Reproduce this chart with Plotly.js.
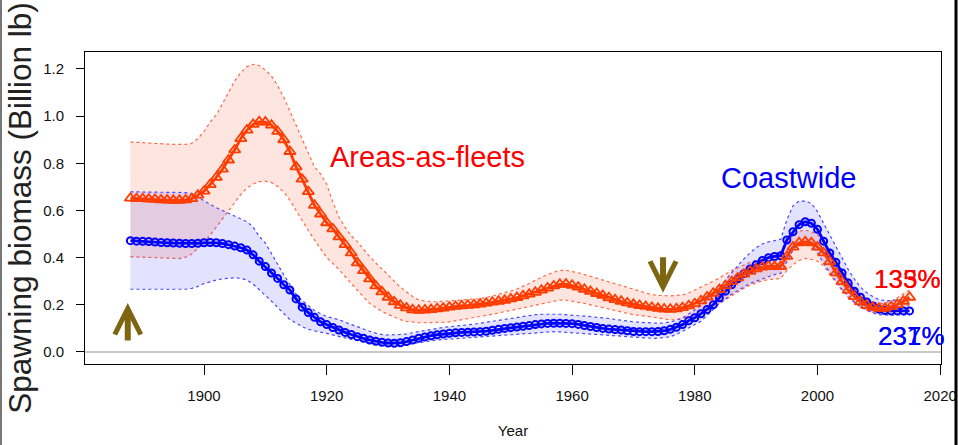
<!DOCTYPE html>
<html>
<head>
<meta charset="utf-8">
<script src="https://cdn.plot.ly/plotly-3.0.1.min.js"></script>
<style>
html,body{margin:0;padding:0;background:#fff;}
#chart{width:958px;height:445px;}
</style>
</head>
<body>
<div id="chart"></div>
<script>
// ---- Data (billion lb) ----
var years = [1888,1889,1890,1891,1892,1893,1894,1895,1896,1897,1898,1899,
1900,1901,1902,1903,1904,1905,1906,1907,1908,1909,
1910,1911,1912,1913,1914,1915,1916,1917,1918,1919,
1920,1921,1922,1923,1924,1925,1926,1927,1928,1929,
1930,1931,1932,1933,1934,1935,1936,1937,1938,1939,
1940,1941,1942,1943,1944,1945,1946,1947,1948,1949,
1950,1951,1952,1953,1954,1955,1956,1957,1958,1959,
1960,1961,1962,1963,1964,1965,1966,1967,1968,1969,
1970,1971,1972,1973,1974,1975,1976,1977,1978,1979,
1980,1981,1982,1983,1984,1985,1986,1987,1988,1989,
1990,1991,1992,1993,1994,1995,1996,1997,1998,1999,
2000,2001,2002,2003,2004,2005,2006,2007,2008,2009,
2010,2011,2012,2013,2014,2015];

// Areas-as-fleets
var aafMid = [.652,.650,.650,.648,.647,.645,.644,.643,.643,.645,.650,.665,
.682,.710,.740,.775,.814,.857,.905,.941,.965,.976,
.975,.962,.935,.900,.850,.785,.733,.680,.622,.585,
.548,.522,.488,.455,.420,.378,.345,.310,.280,.255,
.232,.213,.198,.187,.179,.177,.178,.180,.183,.186,
.190,.193,.196,.198,.200,.203,.207,.211,.215,.219,
.225,.231,.238,.245,.253,.262,.271,.280,.287,.288,
.283,.275,.266,.257,.248,.240,.230,.222,.215,.208,
.202,.197,.193,.189,.185,.182,.181,.183,.188,.196,
.205,.217,.233,.249,.265,.281,.298,.314,.330,.342,
.352,.360,.364,.362,.362,.405,.445,.463,.467,.463,
.445,.420,.383,.335,.298,.262,.235,.213,.198,.189,
.185,.185,.192,.201,.215,.232];
var aafUp = [.890,.890,.888,.886,.884,.882,.880,.880,.880,.880,.885,.905,
.935,.975,1.005,1.050,1.100,1.150,1.185,1.210,1.220,1.215,
1.195,1.170,1.130,1.080,1.020,.960,.898,.840,.785,.755,
.712,.635,.572,.528,.492,.468,.436,.404,.378,.352,
.327,.300,.275,.255,.235,.220,.215,.213,.213,.215,
.217,.218,.219,.220,.222,.226,.231,.237,.243,.250,
.258,.267,.277,.290,.305,.318,.328,.338,.346,.346,
.342,.336,.328,.320,.312,.305,.297,.288,.280,.272,
.265,.258,.250,.243,.240,.238,.238,.240,.242,.250,
.262,.275,.288,.300,.314,.330,.345,.357,.370,.380,
.388,.395,.402,.408,.412,.460,.496,.512,.517,.510,
.497,.470,.430,.390,.345,.305,.270,.245,.225,.212,
.206,.207,.215,.230,.247,.263];
var aafLo = [.404,.403,.402,.401,.400,.398,.395,.394,.396,.402,.415,.440,
.465,.495,.530,.565,.598,.630,.668,.695,.712,.722,
.724,.718,.702,.678,.644,.600,.555,.515,.475,.435,
.400,.375,.350,.320,.290,.260,.233,.206,.190,.172,
.160,.148,.137,.130,.126,.124,.124,.124,.125,.126,
.128,.132,.137,.142,.147,.151,.155,.160,.165,.170,
.175,.180,.186,.192,.198,.204,.210,.216,.220,.220,
.216,.211,.206,.200,.194,.187,.180,.175,.169,.163,
.158,.155,.152,.150,.145,.140,.136,.137,.142,.148,
.155,.165,.176,.188,.205,.222,.238,.253,.270,.283,
.293,.302,.307,.310,.312,.345,.370,.388,.397,.392,
.385,.365,.330,.295,.260,.232,.210,.190,.176,.168,
.164,.165,.170,.180,.190,.199];

// Coastwide
var cwMid = [.472,.470,.469,.468,.466,.464,.463,.462,.461,.460,.460,.461,
.463,.464,.463,.460,.455,.449,.442,.432,.412,.385,
.362,.335,.312,.285,.263,.225,.190,.167,.147,.128,
.116,.104,.093,.083,.074,.065,.058,.051,.045,.041,
.038,.037,.039,.044,.051,.058,.064,.069,.073,.076,
.079,.081,.083,.084,.085,.086,.088,.092,.096,.100,
.103,.106,.109,.112,.116,.119,.121,.122,.122,.121,
.120,.117,.112,.108,.104,.100,.097,.095,.093,.090,
.087,.086,.086,.086,.087,.090,.096,.105,.116,.132,
.145,.162,.180,.200,.230,.258,.285,.310,.332,.352,
.370,.388,.400,.405,.408,.475,.510,.540,.552,.546,
.520,.470,.420,.380,.335,.292,.258,.232,.212,.195,
.182,.176,.174,.174,.174,.174];
var cwUp = [.679,.679,.679,.679,.678,.678,.677,.677,.677,.676,.672,.658,
.640,.625,.612,.600,.588,.578,.567,.552,.530,.490,
.462,.420,.372,.327,.285,.245,.218,.195,.176,.162,
.150,.143,.137,.126,.116,.108,.098,.088,.080,.074,
.072,.072,.074,.077,.082,.087,.092,.097,.101,.104,
.107,.109,.112,.115,.118,.122,.126,.130,.134,.138,
.143,.148,.152,.155,.158,.160,.161,.161,.160,.158,
.157,.155,.152,.150,.148,.146,.142,.138,.134,.130,
.128,.126,.124,.122,.122,.123,.127,.133,.145,.160,
.178,.198,.222,.248,.275,.305,.335,.365,.395,.420,
.442,.458,.467,.472,.478,.560,.620,.640,.640,.630,
.595,.545,.495,.445,.395,.350,.310,.275,.252,.235,
.222,.218,.218,.220,.224,.227];
var cwLo = [.266,.266,.265,.265,.264,.264,.264,.264,.265,.266,.270,.278,
.290,.298,.305,.310,.313,.315,.312,.305,.288,.262,
.240,.215,.190,.163,.137,.123,.107,.096,.089,.084,
.079,.072,.065,.058,.053,.050,.045,.040,.035,.031,
.030,.029,.030,.032,.036,.041,.044,.048,.051,.053,
.054,.056,.058,.060,.062,.064,.066,.068,.070,.072,
.075,.077,.079,.081,.083,.085,.086,.086,.085,.083,
.082,.080,.077,.075,.073,.072,.070,.068,.066,.065,
.063,.061,.059,.058,.058,.060,.065,.074,.088,.102,
.115,.130,.155,.180,.205,.225,.245,.260,.275,.290,
.300,.310,.320,.328,.333,.385,.432,.460,.467,.455,
.420,.375,.335,.300,.265,.238,.212,.192,.177,.165,
.158,.156,.156,.157,.157,.157];

var xTicks = [1900,1920,1940,1960,1980,2000,2020];
var yTicks = [0,0.2,0.4,0.6,0.8,1.0,1.2];

// ---- Styles ----
var RED = '#ff3c00', BLUE = '#0000ff', ARROW = '#7d6512';
var FONT = 'Liberation Sans, Arial, Helvetica, sans-serif';

var traces = [
  {x: years, y: aafLo, mode: 'lines', line: {color: '#ff6a4a', width: 1.2, dash: 'dot'}, hoverinfo: 'skip'},
  {x: years, y: aafUp, mode: 'lines', fill: 'tonexty', fillcolor: 'rgba(255,80,40,0.15)',
   line: {color: '#ff6a4a', width: 1.2, dash: 'dot'}, hoverinfo: 'skip'},
  {x: years, y: cwLo, mode: 'lines', line: {color: '#4848ff', width: 1.2, dash: 'dot'}, hoverinfo: 'skip'},
  {x: years, y: cwUp, mode: 'lines', fill: 'tonexty', fillcolor: 'rgba(0,0,255,0.11)',
   line: {color: '#4848ff', width: 1.2, dash: 'dot'}, hoverinfo: 'skip'},
  {x: years, y: cwMid, mode: 'lines+markers', name: 'Coastwide',
   line: {color: BLUE, width: 2.8},
   marker: {symbol: 'circle-open', size: 7, color: BLUE, line: {width: 2}}},
  {x: years, y: aafMid, mode: 'lines+markers', name: 'Areas-as-fleets',
   line: {color: RED, width: 2.8},
   marker: {symbol: 'triangle-up-open', size: 10, color: RED, line: {width: 1.8}}}
];

var layout = {
  width: 958, height: 445,
  margin: {l: 85, r: 17, t: 52, b: 81},
  paper_bgcolor: '#fff', plot_bgcolor: '#fff',
  showlegend: false,
  font: {family: FONT, color: '#000'},
  xaxis: {
    range: [1880.6, 2020.13], tickvals: xTicks, ticktext: xTicks.map(String),
    ticks: 'outside', ticklen: 10, tickcolor: '#000', tickwidth: 1,
    ticklabelstandoff: 8,
    showgrid: false, zeroline: false,
    showline: true, mirror: true, linecolor: '#000', linewidth: 1,
    tickfont: {size: 15, family: FONT, color: '#111'},
    title: {text: 'Year', font: {size: 15, family: FONT, color: '#111'}, standoff: 22}
  },
  yaxis: {
    range: [-0.051, 1.272], tickvals: yTicks, ticktext: yTicks.map(function(v){return v.toFixed(1);}),
    ticks: 'outside', ticklen: 8, tickcolor: '#000', tickwidth: 1,
    ticklabelstandoff: 9,
    showgrid: false, zeroline: true, zerolinecolor: '#c8c8c8', zerolinewidth: 1.5,
    showline: true, mirror: true, linecolor: '#000', linewidth: 1,
    tickfont: {size: 15, family: FONT, color: '#111'},
    title: {text: 'Spawning biomass (Billion lb)', font: {size: 31.5, family: FONT, color: '#222'}, standoff: 2}
  },
  annotations: [
    {x: 1936.35, y: 0.827, xref: 'x', yref: 'y', text: 'Areas-as-fleets', showarrow: false,
     font: {size: 29, color: '#ff0000', family: FONT}},
    {x: 1995.2, y: 0.738, xref: 'x', yref: 'y', text: 'Coastwide', showarrow: false,
     font: {size: 29, color: BLUE, family: FONT}},
    {x: 2008.88, y: 0.309, xref: 'x', yref: 'y', xanchor: 'left', text: '133%', showarrow: false,
     font: {size: 26, color: '#ff0000', family: FONT}},
    {x: 2008.88, y: 0.309, xref: 'x', yref: 'y', xanchor: 'left', text: '135%', showarrow: false,
     font: {size: 26, color: '#ff0000', family: FONT}},
    {x: 2009.5, y: 0.068, xref: 'x', yref: 'y', xanchor: 'left', text: '231%', showarrow: false,
     font: {size: 26, color: BLUE, family: FONT}},
    {x: 2009.5, y: 0.068, xref: 'x', yref: 'y', xanchor: 'left', text: '237%', showarrow: false,
     font: {size: 26, color: BLUE, family: FONT}},
    {x: 1887.57, y: 0.208, xref: 'x', yref: 'y', text: '', showarrow: true,
     ax: 0, ay: 39, arrowhead: 5, arrowsize: 0.85, arrowwidth: 6, arrowcolor: ARROW},
    {x: 1974.82, y: 0.251, xref: 'x', yref: 'y', text: '', showarrow: true,
     ax: 0, ay: -37, arrowhead: 5, arrowsize: 0.85, arrowwidth: 6, arrowcolor: ARROW}
  ],
  shapes: [
    {type: 'line', xref: 'paper', yref: 'paper', x0: (956-85)/856, x1: (956-85)/856, y0: -0.2596, y1: 1.1667,
     line: {color: '#000', width: 3}},
    {type: 'line', xref: 'paper', yref: 'paper', x0: (1-85)/856, x1: (1-85)/856, y0: -0.2596, y1: 1.1667,
     line: {color: '#777', width: 2}}
  ]
};

Plotly.newPlot('chart', traces, layout, {displayModeBar: false, staticPlot: true});
</script>
</body>
</html>
